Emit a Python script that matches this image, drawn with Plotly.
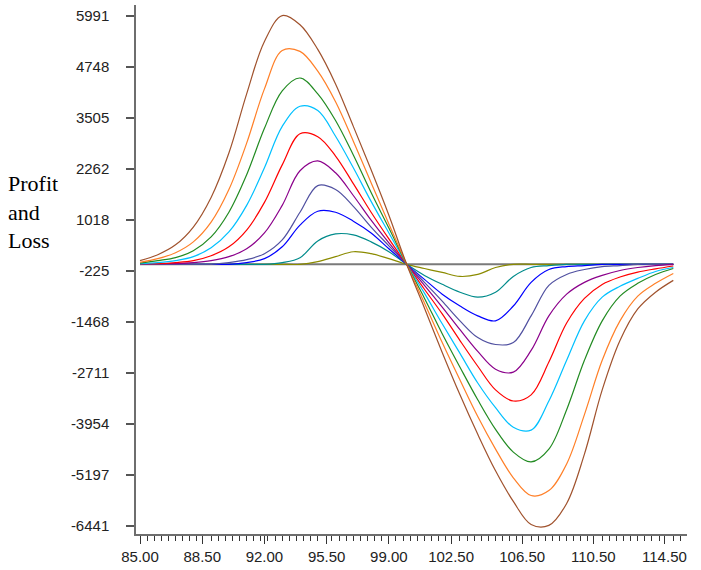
import plotly.graph_objects as go

# Underlying price grid (x) and P&L curves read per price point
PRICE = list(range(85, 116))

PL_SIENNA = [20, 165, 405, 838, 1559, 2641, 4084, 5359, 5991, 5767, 5166, 4325, 3291, 2233, 1126, -70,
             -1134, -2216, -3250, -4212, -5101, -5847, -6410, -6430, -5895, -4693, -3130, -1927, -1158, -749, -461]
PL_ORANGE = [-20, 68, 213, 477, 958, 1752, 2882, 4204, 5142, 5118, 4637, 3892, 2930, 1920, 910, -70,
             -1014, -1976, -2889, -3779, -4572, -5270, -5703, -5583, -4933, -3731, -2408, -1447, -845, -533, -292]
PL_GREEN = [-40, 20, 92, 261, 597, 1199, 2112, 3243, 4156, 4469, 4084, 3435, 2593, 1680, 814, -70,
            -894, -1759, -2577, -3371, -4092, -4645, -4885, -4573, -3611, -2408, -1447, -845, -533, -316, -172]
PL_CYAN = [-52, -28, 20, 116, 333, 718, 1367, 2281, 3291, 3780, 3680, 3050, 2281, 1463, 694, -70,
           -773, -1519, -2240, -2962, -3563, -4040, -4110, -3400, -2408, -1447, -870, -605, -413, -244, -148]
PL_RED = [-52, -52, -28, 20, 140, 357, 766, 1439, 2353, 3110, 3040, 2569, 1896, 1199, 549, -70,
          -677, -1278, -1927, -2553, -3130, -3400, -3250, -2450, -1500, -900, -560, -380, -260, -180, -110]
PL_PURPLE = [-52, -52, -52, -28, 20, 116, 309, 694, 1367, 2209, 2449, 2160, 1607, 1006, 453, -70,
             -581, -1110, -1663, -2192, -2625, -2697, -2168, -1326, -797, -509, -340, -220, -148, -100, -70]
PL_SLATE = [-70, -70, -70, -70, -70, -28, 44, 189, 525, 1199, 1848, 1752, 1343, 838, 381, -70,
            -509, -966, -1447, -1855, -2024, -1976, -1326, -581, -316, -196, -124, -100, -70, -70, -70]
PL_BLUE = [-70, -70, -70, -70, -70, -70, -28, 68, 357, 886, 1222, 1199, 982, 694, 309, -70,
           -437, -797, -1086, -1326, -1446, -1086, -509, -196, -124, -100, -70, -70, -70, -70, -70]
PL_TEAL = [-70, -70, -70, -70, -70, -70, -70, -70, -28, 92, 501, 670, 646, 477, 237, -70,
           -340, -557, -749, -869, -749, -365, -148, -100, -70, -70, -70, -70, -70, -70, -70]
PL_OLIVE = [-70, -70, -70, -70, -70, -70, -70, -70, -70, -70, -4, 116, 237, 189, 68, -70,
            -172, -268, -365, -316, -148, -70, -70, -70, -70, -70, -70, -70, -70, -70, -70]

# Flat reference line across the price range
PRICE_ENDS = [85, 115]
BASELINE = [-70, -70]

X_TICKS = [85.0, 88.5, 92.0, 95.5, 99.0, 102.5, 106.5, 110.5, 114.5]
Y_TICKS = [-6441, -5197, -3954, -2711, -1468, -225, 1018, 2262, 3505, 4748, 5991]

curves = [
    (PL_OLIVE, "#8b8b00"),
    (PL_TEAL, "#008b8b"),
    (PL_BLUE, "#0000ff"),
    (PL_SLATE, "#5050a0"),
    (PL_PURPLE, "#8b008b"),
    (PL_RED, "#ff0000"),
    (PL_CYAN, "#00c0ff"),
    (PL_GREEN, "#228b22"),
    (PL_ORANGE, "#ff7f27"),
    (PL_SIENNA, "#a0522d"),
]

fig = go.Figure()
fig.add_trace(go.Scatter(x=PRICE_ENDS, y=BASELINE, mode="lines",
                         line=dict(color="#7a7a7a", width=2), hoverinfo="skip"))
for values, color in curves:
    fig.add_trace(go.Scatter(x=PRICE, y=values, mode="lines",
                             line=dict(color=color, width=1.2, shape="spline", smoothing=1.0)))

# minor ticks on a 0.4 grid, skipping spots occupied by labelled ticks
minor_vals = []
k = 0
while 85 + 0.4 * k <= 115.5:
    v = round(85 + 0.4 * k, 2)
    if all(abs(v - t) > 0.15 for t in X_TICKS):
        minor_vals.append(v)
    k += 1

tick_font = dict(family="Liberation Sans, Arial, sans-serif", size=15, color="#222")

fig.update_layout(
    width=701, height=570,
    margin=dict(l=136, r=14, t=5, b=29),
    paper_bgcolor="white", plot_bgcolor="white",
    showlegend=False,
    xaxis=dict(
        range=[84.775, 115.77],
        showgrid=False, zeroline=False,
        showline=True, linecolor="#6e6e6e", linewidth=1.5,
        tickmode="array", tickvals=X_TICKS,
        ticktext=[f"{v:.2f}" for v in X_TICKS],
        ticks="outside", ticklen=8, tickwidth=1, tickcolor="#333",
        tickfont=tick_font,
        minor=dict(tickmode="array", tickvals=minor_vals, ticks="outside",
                   ticklen=5, tickwidth=1, tickcolor="#333", showgrid=False),
    ),
    yaxis=dict(
        range=[-6640, 6248],
        showgrid=False, zeroline=False,
        showline=True, linecolor="#6e6e6e", linewidth=1.5,
        tickmode="array", tickvals=Y_TICKS,
        ticktext=[str(v) for v in Y_TICKS],
        ticks="outside", ticklen=8, tickwidth=1.5, tickcolor="#555",
        ticklabelstandoff=14,
        tickfont=tick_font,
    ),
    annotations=[dict(
        text="Profit<br>and<br>Loss", showarrow=False,
        xref="paper", yref="paper", x=(6 - 136) / 551, y=0.608,
        xanchor="left", yanchor="middle", align="left",
        font=dict(family="Liberation Serif, Times New Roman, serif", size=22, color="black"),
    )],
)

fig.write_html("out.html")
